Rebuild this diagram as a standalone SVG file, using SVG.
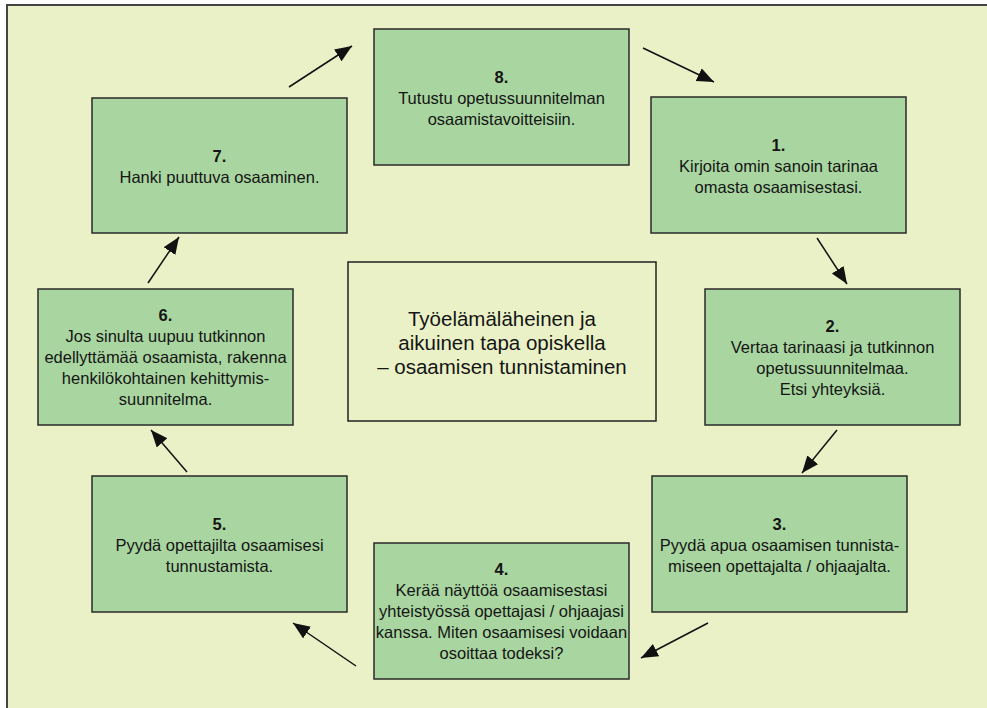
<svg xmlns="http://www.w3.org/2000/svg" width="987" height="708" viewBox="0 0 987 708">
  <style>
    .box { fill: #A9D5A0; stroke: #2a2a2a; stroke-width: 1.5; }
    .center { fill: #EAF1C7; stroke: #222; stroke-width: 1.5; }
    text { font-family: "Liberation Sans", Arial, sans-serif; font-size: 16.5px; fill: #151515; text-anchor: middle; }
    .num { font-weight: bold; }
    .title { font-size: 20.5px; }
    .conn line { stroke: #111; stroke-width: 1.5; marker-end: url(#arrow); }
  </style>
  <defs>
    <marker id="arrow" markerUnits="userSpaceOnUse" markerWidth="19" markerHeight="15" refX="17" refY="7" orient="auto">
      <path d="M0,0 L17,7 L0,14 z" fill="#111"/>
    </marker>
  </defs>
  <rect x="0" y="0" width="987" height="708" fill="#ffffff"/>
  <rect x="7" y="5" width="1000" height="720" fill="#EAF1C7" stroke="#444" stroke-width="2"/>

  <g id="node-center">
    <rect class="center" x="348" y="262" width="308" height="159"/>
    <text class="title" x="502" y="326">Työelämäläheinen ja</text>
    <text class="title" x="502" y="350">aikuinen tapa opiskella</text>
    <text class="title" x="502" y="374">– osaamisen tunnistaminen</text>
  </g>

  <g id="node-8">
    <rect class="box" x="374" y="29" width="255" height="136"/>
    <text class="num" x="501.5" y="83">8.</text>
    <text x="501.5" y="104">Tutustu opetussuunnitelman</text>
    <text x="501.5" y="125">osaamistavoitteisiin.</text>
  </g>

  <g id="node-1">
    <rect class="box" x="651" y="97" width="255" height="136"/>
    <text class="num" x="778.5" y="151">1.</text>
    <text x="778.5" y="172">Kirjoita omin sanoin tarinaa</text>
    <text x="778.5" y="193">omasta osaamisestasi.</text>
  </g>

  <g id="node-2">
    <rect class="box" x="705" y="289" width="255" height="136"/>
    <text class="num" x="832.5" y="332">2.</text>
    <text x="832.5" y="353">Vertaa tarinaasi ja tutkinnon</text>
    <text x="832.5" y="374">opetussuunnitelmaa.</text>
    <text x="832.5" y="395">Etsi yhteyksiä.</text>
  </g>

  <g id="node-3">
    <rect class="box" x="652" y="476" width="255" height="136"/>
    <text class="num" x="779.5" y="530">3.</text>
    <text x="779.5" y="551">Pyydä apua osaamisen tunnista-</text>
    <text x="779.5" y="572">miseen opettajalta / ohjaajalta.</text>
  </g>

  <g id="node-4">
    <rect class="box" x="374" y="543" width="255" height="136"/>
    <text class="num" x="501.5" y="575">4.</text>
    <text x="501.5" y="596">Kerää näyttöä osaamisestasi</text>
    <text x="501.5" y="617">yhteistyössä opettajasi / ohjaajasi</text>
    <text x="501.5" y="638">kanssa. Miten osaamisesi voidaan</text>
    <text x="501.5" y="659">osoittaa todeksi?</text>
  </g>

  <g id="node-5">
    <rect class="box" x="92" y="476" width="255" height="136"/>
    <text class="num" x="219.5" y="530">5.</text>
    <text x="219.5" y="551">Pyydä opettajilta osaamisesi</text>
    <text x="219.5" y="572">tunnustamista.</text>
  </g>

  <g id="node-6">
    <rect class="box" x="38" y="289" width="255" height="136"/>
    <text class="num" x="165.5" y="321">6.</text>
    <text x="165.5" y="342">Jos sinulta uupuu tutkinnon</text>
    <text x="165.5" y="363">edellyttämää osaamista, rakenna</text>
    <text x="165.5" y="384">henkilökohtainen kehittymis-</text>
    <text x="165.5" y="405">suunnitelma.</text>
  </g>

  <g id="node-7">
    <rect class="box" x="92" y="98" width="255" height="135"/>
    <text class="num" x="219.5" y="162">7.</text>
    <text x="219.5" y="183">Hanki puuttuva osaaminen.</text>
  </g>

  <g id="connectors" class="conn">
    <line x1="289" y1="87" x2="352" y2="46"/>
    <line x1="643" y1="48" x2="714" y2="82"/>
    <line x1="817" y1="238" x2="847" y2="284"/>
    <line x1="837" y1="430" x2="802" y2="473"/>
    <line x1="708" y1="623" x2="641" y2="658"/>
    <line x1="356" y1="666" x2="293" y2="623"/>
    <line x1="187" y1="472" x2="151" y2="430"/>
    <line x1="148" y1="283" x2="179" y2="237"/>
  </g>
</svg>
